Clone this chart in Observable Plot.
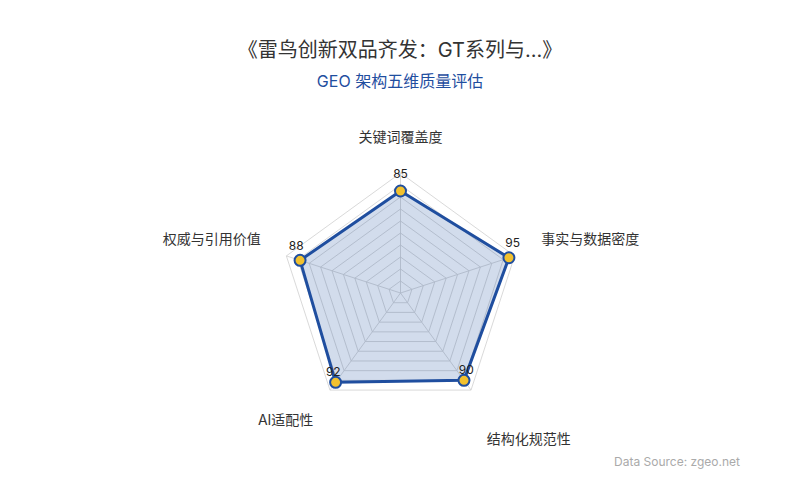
<!DOCTYPE html>
<html>
<head>
<meta charset="utf-8">
<script src="https://cdn.jsdelivr.net/npm/d3@7"></script>
<script src="https://cdn.jsdelivr.net/npm/@observablehq/plot@0.6"></script>
<style>
  html, body { margin: 0; padding: 0; background: #fff; }
  body { width: 800px; height: 500px; overflow: hidden; font-family: "Inter", "Noto Sans CJK SC", "Noto Sans", sans-serif; }
  #title { margin-top: 36px; height: 28px; line-height: 28px; font-size: 20px; color: #333; text-align: center; }
  #subtitle { margin-top: 7px; height: 20px; line-height: 20px; font-size: 16px; color: #1f4e9f; text-align: center; }
  #chart { margin-top: 9px; height: 355px; }
  #chart svg { display: block; }
  #caption { height: 14px; line-height: 14px; font-size: 12px; color: #aaa; text-align: right; padding-right: 60px; }
</style>
</head>
<body>
<div id="title">《雷鸟创新双品齐发：GT系列与...》</div>
<div id="subtitle">GEO 架构五维质量评估</div>
<div id="chart"></div>
<div id="caption">Data Source: zgeo.net</div>
<script>
// ---- data ----
const categories = ["关键词覆盖度", "事实与数据密度", "结构化规范性", "AI适配性", "权威与引用价值"];
const values = [85, 95, 90, 92, 88];
const maxValue = 100;
const gridLevels = [10, 20, 30, 40, 50, 60, 70, 80, 90, 100];

// ---- layout ----
const W = 800, H = 355;
const R = 120;              // radius (px) of maxValue
const labelR = 150;         // radius of axis names
const labelNudge = [[0, -5], [-2, -7], [-2, 25], [1, 6], [3, -7]]; // px tweaks [dx, dy(down)]
const blue = "#1f4e9f";
const n = categories.length;
const r = d3.scaleLinear().domain([0, maxValue]).range([0, R]);
const ang = i => (i * 2 * Math.PI) / n;
const px = (i, v) => Math.sin(ang(i)) * r(v);
const py = (i, v) => Math.cos(ang(i)) * r(v);

// grid rings (closed pentagons)
const rings = [];
for (const lv of gridLevels) {
  for (let k = 0; k <= n; k++) {
    const i = k % n;
    rings.push({level: lv, x: px(i, lv), y: py(i, lv)});
  }
}
// spokes
const spokes = categories.map((c, i) => ({sx: 0, sy: 0, ex: px(i, maxValue), ey: py(i, maxValue)}));
// data polygon
const poly = values.map((v, i) => ({cat: categories[i], value: v, i, x: px(i, v), y: py(i, v)}));
const polyClosed = [...poly, poly[0]];
// value labels
const valueLabels = poly.map(d => ({
  text: String(d.value),
  x: d.x + Math.sin(ang(d.i)) * 4,
  y: d.y + 13 + 4 * Math.cos(ang(d.i))
}));
// axis names
const names = categories.map((c, i) => {
  const s = Math.sin(ang(i));
  return {
    text: c,
    x: Math.sin(ang(i)) * labelR + labelNudge[i][0],
    y: Math.cos(ang(i)) * labelR - labelNudge[i][1],
    anchor: Math.abs(s) < 0.01 ? "middle" : (s > 0 ? "start" : "end")
  };
});

const chart = Plot.plot({
  width: W,
  height: H,
  margin: 0,
  x: {domain: [-400, 400], axis: null},
  y: {domain: [-162.5, 192.5], axis: null},
  style: {background: "transparent", fontFamily: "Inter, 'Noto Sans CJK SC', sans-serif"},
  marks: [
    Plot.line(rings, {x: "x", y: "y", z: "level", stroke: "#d2d2d2", strokeWidth: 1, strokeOpacity: 0.85}),
    Plot.link(spokes, {x1: "sx", y1: "sy", x2: "ex", y2: "ey", stroke: "#d2d2d2", strokeWidth: 1, strokeOpacity: 0.85}),
    Plot.line(polyClosed, {x: "x", y: "y", fill: blue, fillOpacity: 0.2, stroke: blue, strokeWidth: 3, strokeLinejoin: "round"}),
    Plot.dot(poly, {x: "x", y: "y", r: 5.5, fill: "#f2c12e", stroke: blue, strokeWidth: 2}),
    Plot.text(valueLabels, {x: "x", y: "y", text: "text", fontSize: 12, fill: "#222", textAnchor: "middle", lineAnchor: "middle"}),
    Plot.text(names.filter(d => d.anchor === "middle"), {x: "x", y: "y", text: "text", fontSize: 14, fill: "#333", textAnchor: "middle", lineAnchor: "middle"}),
    Plot.text(names.filter(d => d.anchor === "start"), {x: "x", y: "y", text: "text", fontSize: 14, fill: "#333", textAnchor: "start", lineAnchor: "middle"}),
    Plot.text(names.filter(d => d.anchor === "end"), {x: "x", y: "y", text: "text", fontSize: 14, fill: "#333", textAnchor: "end", lineAnchor: "middle"})
  ]
});
document.getElementById("chart").appendChild(chart);
</script>
</body>
</html>
